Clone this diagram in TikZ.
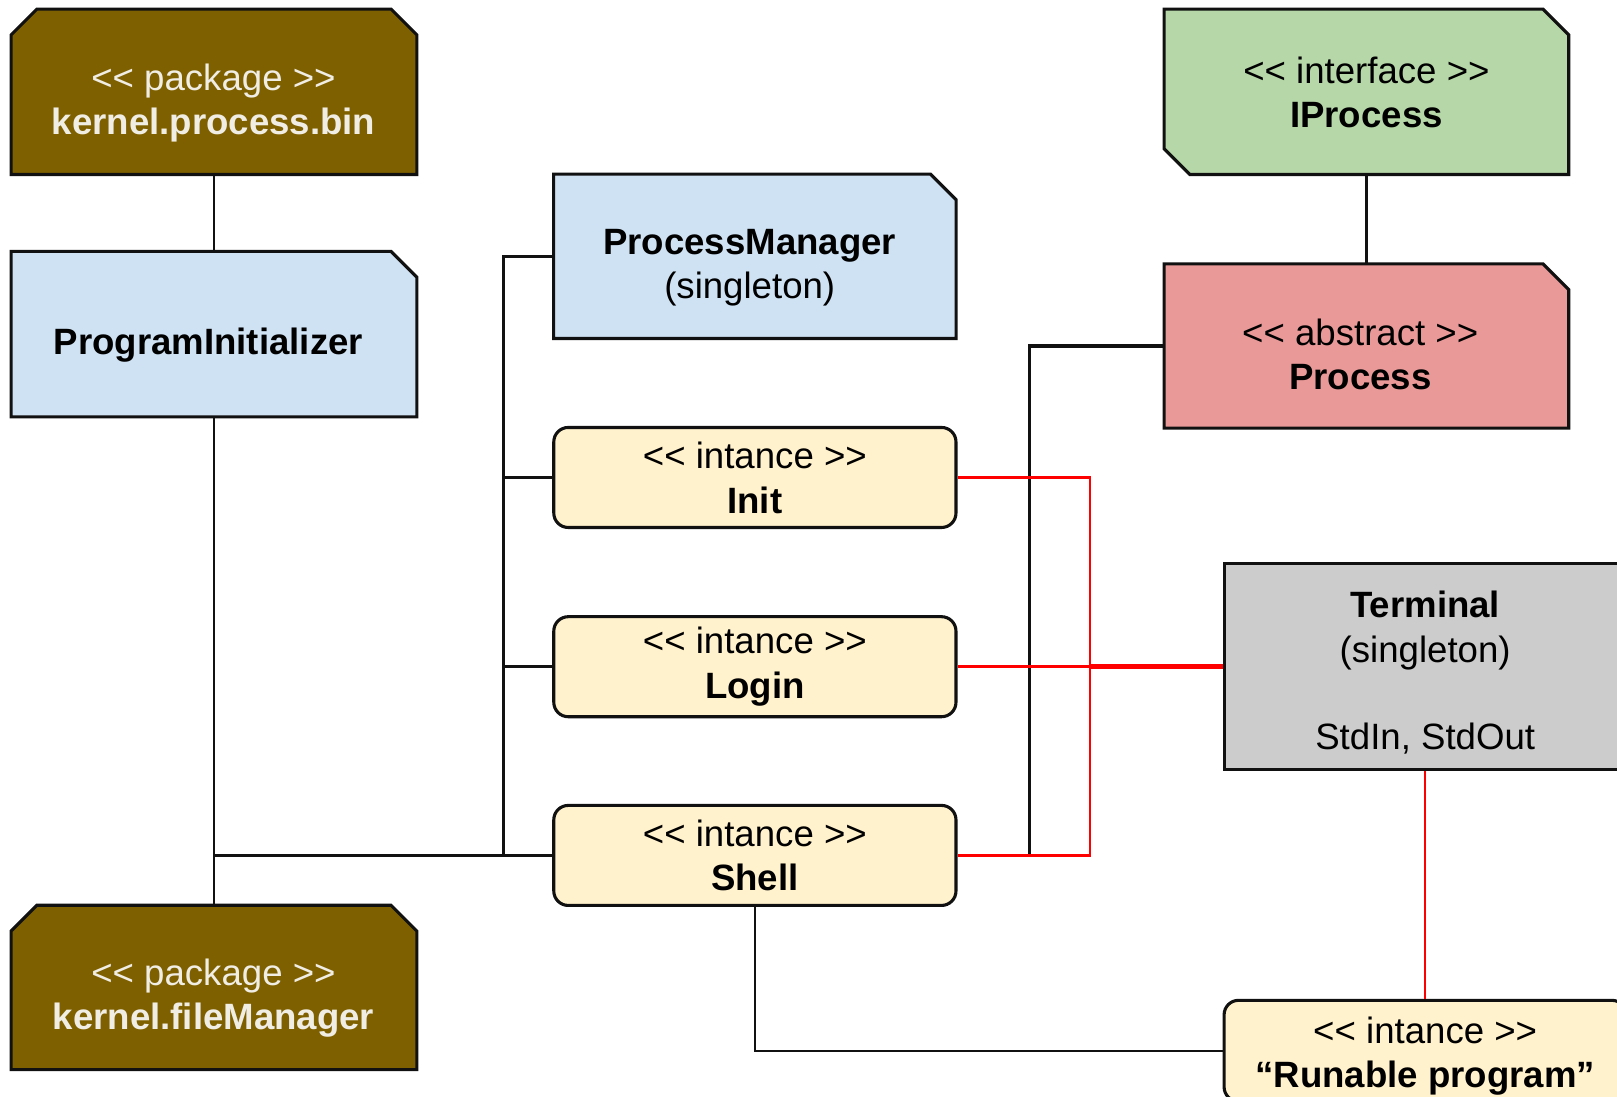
\documentclass[tikz,border=0pt]{standalone}
\usepackage{fontspec}
\setmainfont{Liberation Sans}[Ligatures=TeXOff]
\usetikzlibrary{calc}
\definecolor{pkgbrown}{HTML}{7F6000}
\definecolor{pkgtext}{HTML}{F0EDE4}
\definecolor{classblue}{HTML}{CFE2F3}
\definecolor{instyellow}{HTML}{FFF2CC}
\definecolor{ifgreen}{HTML}{B6D7A8}
\definecolor{abspink}{HTML}{EA9999}
\definecolor{termgrey}{HTML}{CCCCCC}
\definecolor{linered}{HTML}{FF0000}
\definecolor{edgeblack}{HTML}{111111}
\begin{document}
\begin{tikzpicture}[x=1pt,y=-1pt,
  box/.style={inner sep=0pt, minimum width=393pt, minimum height=160pt},
  outline/.style={draw=edgeblack, line width=3pt, line join=miter},
  inst/.style={draw=edgeblack, line width=3pt, fill=instyellow, rounded corners=14pt,
    minimum width=390pt, minimum height=97pt, inner sep=0pt},
  termbox/.style={draw=edgeblack, line width=3pt, fill=termgrey,
    minimum width=390pt, minimum height=200pt, inner sep=0pt},
  txt/.style={align=center, font=\fontsize{35.5}{43}\selectfont, inner sep=0pt, text=black},
  pkgtxt/.style={txt, text=pkgtext},
  conn/.style={draw=edgeblack, line width=3pt},
  thinconn/.style={draw=edgeblack, line width=2.5pt},
  redconn/.style={draw=linered, line width=2.5pt}]
\useasboundingbox (0,0) rectangle (1568,1063);
\clip (0,0) rectangle (1568,1063);
\fill[white] (0,0) rectangle (1568,1063);

% invisible anchor boxes
\node[box] (bin) at (207.5,89) {};
\node[box] (PI) at (207.5,324) {};
\node[box, minimum height=159pt] (fm) at (207.5,957.5) {};
\node[box, minimum width=390pt, minimum height=159pt] (PM) at (732,248.5) {};
\node[box, minimum width=392pt] (IProc) at (1325,89) {};
\node[box, minimum width=392pt, minimum height=159pt] (Proc) at (1325,335.5) {};

% chamfered outlines
\path[outline, fill=pkgbrown] (bin.south west) -- ($(bin.north west)+(0,25)$) -- ($(bin.north west)+(25,0)$)
  -- ($(bin.north east)+(-25,0)$) -- ($(bin.north east)+(0,25)$) -- (bin.south east) -- cycle;
\path[outline, fill=classblue] (PI.south west) -- (PI.north west) -- ($(PI.north east)+(-25,0)$)
  -- ($(PI.north east)+(0,25)$) -- (PI.south east) -- cycle;
\path[outline, fill=pkgbrown] (fm.south west) -- ($(fm.north west)+(0,25)$) -- ($(fm.north west)+(25,0)$)
  -- ($(fm.north east)+(-25,0)$) -- ($(fm.north east)+(0,25)$) -- (fm.south east) -- cycle;
\path[outline, fill=classblue] (PM.south west) -- (PM.north west) -- ($(PM.north east)+(-25,0)$)
  -- ($(PM.north east)+(0,25)$) -- (PM.south east) -- cycle;
\path[outline, fill=ifgreen] ($(IProc.south west)+(25,0)$) -- ($(IProc.south west)+(0,-25)$) -- (IProc.north west)
  -- ($(IProc.north east)+(-25,0)$) -- ($(IProc.north east)+(0,25)$) -- (IProc.south east) -- cycle;
\path[outline, fill=abspink] (Proc.south west) -- (Proc.north west) -- ($(Proc.north east)+(-25,0)$)
  -- ($(Proc.north east)+(0,25)$) -- (Proc.south east) -- cycle;

% drawn nodes
\node[inst] (Init) at (732,463) {};
\node[inst] (Login) at (732,646.5) {};
\node[inst] (Shell) at (732,829.5) {};
\node[termbox] (Term) at (1382,646.5) {};
\node[inst, minimum height=98pt] (Run) at (1382,1019) {};

% connectors (black)
\draw[thinconn] (bin.south) -- (PI.north);
\draw[thinconn] (PI.south) -- (fm.north);
\coordinate (jL) at (PI.south |- Shell.west);
\draw[conn] (jL) -- (Shell.west);
\coordinate (jM) at (488,829.5);
\draw[conn] (PM.west) -| (jM);
\draw[thinconn] (Init.west) -- (Init.west -| jM);
\draw[thinconn] (Login.west) -- (Login.west -| jM);
\draw[conn] (IProc.south) -- (Proc.north);
\coordinate (jP) at (998,829.5);
\draw[conn] (Proc.west) -| (jP) -- (Shell.east);
\draw[thinconn] (Shell.south) |- (Run.west);

% connectors (red)
\coordinate (jRa) at (1057,645.2);
\coordinate (jRb) at (1057,647.8);
\draw[redconn] (Init.east) -| (jRa) -- ($(Term.west)+(0,-1.3)$);
\draw[redconn] (Shell.east) -| (jRb) -- ($(Term.west)+(0,1.3)$);
\draw[redconn] (Login.east) -- (Term.west);
\draw[redconn] (Term.south -| Run.north) -- (Run.north);

% texts
\node[pkgtxt] (binT) at (207,100) {<< package >>\\\textbf{kernel.process.bin}};
\node[txt] (PIT) at (202,335) {\textbf{ProgramInitializer}};
\node[pkgtxt] (fmT) at (207,968) {<< package >>\\\textbf{kernel.fileManager}};
\node[txt] (PMT) at (727,259.5) {\textbf{ProcessManager}\\(singleton)};
\node[txt] (InitT) at (732,463.5) {<< intance >>\\\textbf{Init}};
\node[txt] (LoginT) at (732,646.5) {<< intance >>\\\textbf{Login}};
\node[txt] (ShellT) at (732,829.5) {<< intance >>\\\textbf{Shell}};
\node[txt] (IPT) at (1325,89.5) {<< interface >>\\\textbf{IProcess}};
\node[txt] (ProcT) at (1319,343.5) {<< abstract >>\\\textbf{Process}};
\node[txt] (TermT) at (1382,652.5) {\textbf{Terminal}\\(singleton)\\[42pt]StdIn, StdOut};
\node[txt] (RunT) at (1382,1024) {<< intance >>\\\textbf{“Runable program”}};
\end{tikzpicture}
\end{document}
